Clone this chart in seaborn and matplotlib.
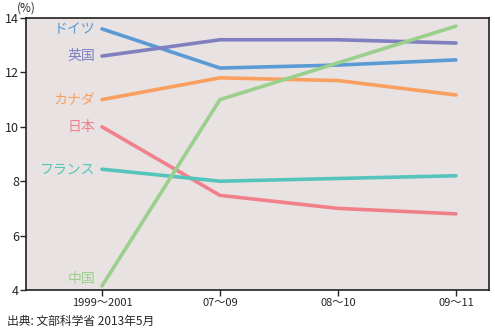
import matplotlib
matplotlib.use("Agg")
import matplotlib.pyplot as plt
import seaborn as sns
import pandas as pd

periods = ["1999～2001", "07～09", "08～10", "09～11"]
countries = ["ドイツ", "英国", "カナダ", "日本", "フランス", "中国"]
germany = [13.6, 12.16, 12.27, 12.46]
uk = [12.6, 13.2, 13.2, 13.08]
canada = [11.0, 11.8, 11.7, 11.17]
japan = [10.0, 7.48, 7.0, 6.8]
france = [8.44, 8.0, 8.1, 8.2]
china = [4.15, 11.0, 12.35, 13.7]
colors = ["#5b9bd5", "#8080c0", "#f9a060", "#f2808a", "#55c4bc", "#9ad08c"]

series = [germany, uk, canada, japan, france, china]
rows = []
for name, vals in zip(countries, series):
    for i, v in enumerate(vals):
        rows.append({"period": i, "country": name, "share": v})
df = pd.DataFrame(rows)

sns.set_style("ticks")
plt.rcParams["font.family"] = ["Noto Sans CJK JP", "DejaVu Sans"]

fig = plt.figure(figsize=(4.95, 3.32), dpi=100)
ax = fig.add_axes([26 / 495, 1 - 290 / 332, (489 - 26) / 495, 272 / 332])
ax.set_facecolor("#e8e2e2")

sns.lineplot(data=df, x="period", y="share", hue="country", hue_order=countries,
             palette=colors, linewidth=2.6, legend=False, ax=ax)

# series names sit just left of each line's first point
for name, vals, c in zip(countries, series, colors):
    dy = 5 if name == "中国" else 0
    ax.annotate(name, (0, vals[0]), xytext=(-5, dy), textcoords="offset points",
                ha="right", va="center", color=c, fontsize=10)

ax.set_xlim(-0.644, 3.28)
ax.set_ylim(4, 14)
ax.set_xticks(range(len(periods)))
ax.set_xticklabels(periods, fontsize=8)
ax.set_yticks([4, 6, 8, 10, 12, 14])
ax.tick_params(axis="y", labelsize=9, length=4, width=1, pad=1)
ax.tick_params(axis="x", length=4, width=1, pad=2)
ax.set_xlabel("")
ax.set_ylabel("")
for s in ax.spines.values():
    s.set_visible(True)
    s.set_color("#231f20")
    s.set_linewidth(1.2)

fig.text(26 / 495, 1 - 8 / 332, "(%)", fontsize=8.5, ha="center", va="center")
fig.text(7 / 495, 1 - 321 / 332, "出典: 文部科学省 2013年5月", fontsize=8.5, ha="left", va="center")

fig.savefig("out.png", dpi=100)
